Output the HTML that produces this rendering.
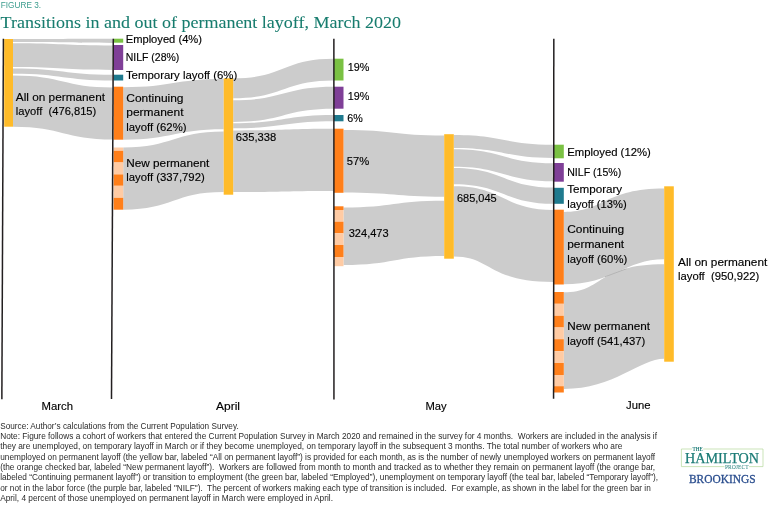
<!DOCTYPE html>
<html lang="en"><head><meta charset="utf-8"><title>Figure 3. Transitions in and out of permanent layoff, March 2020</title>
<style>
html,body{margin:0;padding:0;background:#fff;}
body{width:768px;height:507px;overflow:hidden;}
svg{display:block;}
text{font-family:"Liberation Sans",sans-serif;}
.lab text{font-size:11.6px;fill:#000;stroke:#000;stroke-width:0.15px;}
.note text{font-size:8.2px;fill:#2a2a2a;}
.ser{font-family:"Liberation Serif",serif;}
</style></head><body>
<svg width="768" height="507" viewBox="0 0 768 507">
<rect width="768" height="507" fill="#ffffff"/>
<text x="0.8" y="7.6" font-size="9.2" fill="#3a9c8d" textLength="40.3" lengthAdjust="spacingAndGlyphs">FIGURE 3.</text>
<text class="ser" x="0.6" y="28.3" font-size="17.5" fill="#177c6e" stroke="#177c6e" stroke-width="0.08" textLength="400.4" lengthAdjust="spacingAndGlyphs" style="font-family:'Liberation Serif',serif">Transitions in and out of permanent layoff, March 2020</text>
<g fill="#cccccc">
<path d="M13,39 C63.1,39 63.1,38.7 113.3,38.7 L113.3,42.9 C63.1,42.9 63.1,42.1 13,42.1 Z"/>
<path d="M13,43.2 C63.1,43.2 63.1,45.4 113.3,45.4 L113.3,70 C63.1,70 63.1,67.1 13,67.1 Z"/>
<path d="M13,68.5 C63.1,68.5 63.1,74.7 113.3,74.7 L113.3,80.5 C63.1,80.5 63.1,73.75 13,73.75 Z"/>
<path d="M13,75.4 C63.1,75.4 63.1,87.4 113.3,87.4 L113.3,139.5 C63.1,139.5 63.1,126.7 13,126.7 Z"/>
<path d="M123.2,87.2 C173.4,87.2 173.4,79 223.7,79 L223.7,129.3 C173.4,129.3 173.4,139.7 123.2,139.7 Z"/>
<path d="M123.2,147.5 C173.4,147.5 173.4,131.6 223.7,131.6 L223.7,192.1 C173.4,192.1 173.4,209.7 123.2,209.7 Z"/>
<path d="M233.2,78.3 C283.4,78.3 283.4,58.7 333.5,58.7 L333.5,80.5 C283.4,80.5 283.4,98.3 233.2,98.3 Z"/>
<path d="M233.2,100.3 C283.4,100.3 283.4,86.7 333.5,86.7 L333.5,108.7 C283.4,108.7 283.4,122 233.2,122 Z"/>
<path d="M233.2,123.3 C283.4,123.3 283.4,115 333.5,115 L333.5,121.3 C283.4,121.3 283.4,128.3 233.2,128.3 Z"/>
<path d="M233.2,130.5 C283.4,130.5 283.4,128.7 333.5,128.7 L333.5,190.9 C283.4,190.9 283.4,192.0 233.2,192.0 Z"/>
<path d="M343.5,130 C393.9,130 393.9,135.5 444.2,135.5 L444.2,196.7 C393.9,196.7 393.9,192.5 343.5,192.5 Z"/>
<path d="M343.5,207.5 C393.9,207.5 393.9,200.8 444.2,200.8 L444.2,256 C393.9,256 393.9,265 343.5,265 Z"/>
<path d="M453.8,135 C503.6,135 503.6,144.7 553.5,144.7 L553.5,158 C503.6,158 503.6,148 453.8,148 Z"/>
<path d="M453.8,149.2 C503.6,149.2 503.6,163.3 553.5,163.3 L553.5,181.3 C503.6,181.3 503.6,166.7 453.8,166.7 Z"/>
<path d="M453.8,168 C503.6,168 503.6,187.5 553.5,187.5 L553.5,203.7 C503.6,203.7 503.6,184.2 453.8,184.2 Z"/>
<path d="M453.8,186.3 C503.6,186.3 503.6,210 553.5,210 L553.5,281.9 C487.7,281.9 491.7,256.4 453.8,256.4 Z"/>
<path d="M563.8,212 C604.0,212 605.0,188.6 664.2,188.6 L664.2,259.2 C625.0,259.2 613.0,284.3 563.8,284.3 Z"/>
<path d="M563.8,292.3 C604.0,292.3 595.9,264.2 664.2,264.2 L664.2,358.8 C640.1,358.8 614.0,389 563.8,389 Z"/>
</g>
<line x1="605" y1="276.8" x2="626.7" y2="268.7" stroke="#6e6e6e" stroke-width="0.25"/>
<g>
<rect x="4.2" y="39.00" width="8.80" height="87.70" fill="#ffbb29"/>
<rect x="223.7" y="78.30" width="9.50" height="116.40" fill="#ffbb29"/>
<rect x="444.2" y="134.20" width="9.60" height="124.50" fill="#ffbb29"/>
<rect x="664.2" y="186.30" width="9.60" height="175.40" fill="#ffbb29"/>
<rect x="113.6" y="38.70" width="9.60" height="4.00" fill="#7ac143"/>
<rect x="113.6" y="45.00" width="9.60" height="25.00" fill="#7f3f97"/>
<rect x="113.6" y="74.70" width="9.60" height="5.80" fill="#1f7a8e"/>
<rect x="113.6" y="86.70" width="9.60" height="53.00" fill="#ff7f1a"/>
<rect x="113.6" y="147.50" width="9.60" height="3.30" fill="#ffcba4"/>
<rect x="113.6" y="150.80" width="9.60" height="11.70" fill="#ff7f1a"/>
<rect x="113.6" y="162.50" width="9.60" height="11.90" fill="#ffcba4"/>
<rect x="113.6" y="174.40" width="9.60" height="11.40" fill="#ff7f1a"/>
<rect x="113.6" y="185.80" width="9.60" height="12.00" fill="#ffcba4"/>
<rect x="113.6" y="197.80" width="9.60" height="11.90" fill="#ff7f1a"/>
<rect x="334" y="58.70" width="9.50" height="21.80" fill="#7ac143"/>
<rect x="334" y="86.70" width="9.50" height="22.00" fill="#7f3f97"/>
<rect x="334" y="115.00" width="9.50" height="6.30" fill="#1f7a8e"/>
<rect x="334" y="128.70" width="9.50" height="64.10" fill="#ff7f1a"/>
<rect x="334" y="206.30" width="9.50" height="3.70" fill="#ff7f1a"/>
<rect x="334" y="210.00" width="9.50" height="11.70" fill="#ffcba4"/>
<rect x="334" y="221.70" width="9.50" height="11.60" fill="#ff7f1a"/>
<rect x="334" y="233.30" width="9.50" height="11.70" fill="#ffcba4"/>
<rect x="334" y="245.00" width="9.50" height="12.00" fill="#ff7f1a"/>
<rect x="334" y="257.00" width="9.50" height="9.20" fill="#ffcba4"/>
<rect x="554" y="144.70" width="9.80" height="13.60" fill="#7ac143"/>
<rect x="554" y="163.00" width="9.80" height="18.70" fill="#7f3f97"/>
<rect x="554" y="187.80" width="9.80" height="16.00" fill="#1f7a8e"/>
<rect x="554" y="209.70" width="9.80" height="74.80" fill="#ff7f1a"/>
<rect x="554" y="292.00" width="9.80" height="11.80" fill="#ff7f1a"/>
<rect x="554" y="303.80" width="9.80" height="12.00" fill="#ffcba4"/>
<rect x="554" y="315.80" width="9.80" height="11.70" fill="#ff7f1a"/>
<rect x="554" y="327.50" width="9.80" height="11.70" fill="#ffcba4"/>
<rect x="554" y="339.20" width="9.80" height="12.00" fill="#ff7f1a"/>
<rect x="554" y="351.20" width="9.80" height="11.80" fill="#ffcba4"/>
<rect x="554" y="363.00" width="9.80" height="12.00" fill="#ff7f1a"/>
<rect x="554" y="375.00" width="9.80" height="11.20" fill="#ffcba4"/>
<rect x="554" y="386.20" width="9.80" height="6.30" fill="#ff7f1a"/>
</g>
<g stroke="#231f20" stroke-width="1.5">
<line x1="3.4" y1="38.7" x2="1.85" y2="399.3"/>
<line x1="113.3" y1="38.7" x2="111.5" y2="399.1"/>
<line x1="333.85" y1="38.7" x2="333.95" y2="399.4"/>
<line x1="553.8" y1="38.7" x2="553.6" y2="398.8"/>
</g>
<g class="lab">
<text x="15.8" y="100.8" textLength="89.2" lengthAdjust="spacingAndGlyphs" xml:space="preserve">All on permanent</text>
<text x="15.8" y="115.2" textLength="80.5" lengthAdjust="spacingAndGlyphs" xml:space="preserve">layoff  (476,815)</text>
<text x="125.7" y="43.3" textLength="76.3" lengthAdjust="spacingAndGlyphs" xml:space="preserve">Employed (4%)</text>
<text x="125.7" y="60.8" textLength="53.6" lengthAdjust="spacingAndGlyphs" xml:space="preserve">NILF (28%)</text>
<text x="125.9" y="78.7" textLength="111.4" lengthAdjust="spacingAndGlyphs" xml:space="preserve">Temporary layoff (6%)</text>
<text x="126.3" y="101.7" textLength="57.2" lengthAdjust="spacingAndGlyphs" xml:space="preserve">Continuing</text>
<text x="126.3" y="116" textLength="57.2" lengthAdjust="spacingAndGlyphs" xml:space="preserve">permanent</text>
<text x="126.3" y="130.5" textLength="60.2" lengthAdjust="spacingAndGlyphs" xml:space="preserve">layoff (62%)</text>
<text x="126.3" y="166.7" textLength="83.0" lengthAdjust="spacingAndGlyphs" xml:space="preserve">New permanent</text>
<text x="126.3" y="181" textLength="78.4" lengthAdjust="spacingAndGlyphs" xml:space="preserve">layoff (337,792)</text>
<text x="235.7" y="141.3" textLength="40.5" lengthAdjust="spacingAndGlyphs" xml:space="preserve">635,338</text>
<text x="347.7" y="70.8" textLength="21.6" lengthAdjust="spacingAndGlyphs" xml:space="preserve">19%</text>
<text x="347.7" y="100.3" textLength="21.6" lengthAdjust="spacingAndGlyphs" xml:space="preserve">19%</text>
<text x="347.2" y="121.7" textLength="15.5" lengthAdjust="spacingAndGlyphs" xml:space="preserve">6%</text>
<text x="346.8" y="164.7" textLength="22.5" lengthAdjust="spacingAndGlyphs" xml:space="preserve">57%</text>
<text x="348.7" y="236.7" textLength="40.0" lengthAdjust="spacingAndGlyphs" xml:space="preserve">324,473</text>
<text x="457" y="201.7" textLength="39.7" lengthAdjust="spacingAndGlyphs" xml:space="preserve">685,045</text>
<text x="567.2" y="155.8" textLength="83.6" lengthAdjust="spacingAndGlyphs" xml:space="preserve">Employed (12%)</text>
<text x="567.2" y="176.2" textLength="54.1" lengthAdjust="spacingAndGlyphs" xml:space="preserve">NILF (15%)</text>
<text x="567.2" y="193.3" textLength="55.0" lengthAdjust="spacingAndGlyphs" xml:space="preserve">Temporary</text>
<text x="567.2" y="207.6" textLength="59.5" lengthAdjust="spacingAndGlyphs" xml:space="preserve">layoff (13%)</text>
<text x="567.2" y="233.3" textLength="57.0" lengthAdjust="spacingAndGlyphs" xml:space="preserve">Continuing</text>
<text x="567.2" y="248" textLength="57.0" lengthAdjust="spacingAndGlyphs" xml:space="preserve">permanent</text>
<text x="567.2" y="262.5" textLength="60.0" lengthAdjust="spacingAndGlyphs" xml:space="preserve">layoff (60%)</text>
<text x="567.2" y="330" textLength="82.8" lengthAdjust="spacingAndGlyphs" xml:space="preserve">New permanent</text>
<text x="567.2" y="344.6" textLength="78.1" lengthAdjust="spacingAndGlyphs" xml:space="preserve">layoff (541,437)</text>
<text x="678" y="265.8" textLength="89.3" lengthAdjust="spacingAndGlyphs" xml:space="preserve">All on permanent</text>
<text x="678" y="280.4" textLength="81.2" lengthAdjust="spacingAndGlyphs" xml:space="preserve">layoff  (950,922)</text>
<text x="41.5" y="410.4" textLength="31.5" lengthAdjust="spacingAndGlyphs" xml:space="preserve">March</text>
<text x="216" y="410.2" textLength="24.0" lengthAdjust="spacingAndGlyphs" xml:space="preserve">April</text>
<text x="425.5" y="409.8" textLength="21.2" lengthAdjust="spacingAndGlyphs" xml:space="preserve">May</text>
<text x="626" y="408.8" textLength="24.5" lengthAdjust="spacingAndGlyphs" xml:space="preserve">June</text>
</g>
<g class="note">
<text x="0.2" y="428.7" textLength="238.5" lengthAdjust="spacingAndGlyphs" xml:space="preserve">Source: Author’s calculations from the Current Population Survey.</text>
<text x="0.2" y="439.1" textLength="656.8" lengthAdjust="spacingAndGlyphs" xml:space="preserve">Note: Figure follows a cohort of workers that entered the Current Population Survey in March 2020 and remained in the survey for 4 months.  Workers are included in the analysis if</text>
<text x="0.2" y="449.4" textLength="622.2" lengthAdjust="spacingAndGlyphs" xml:space="preserve">they are unemployed, on temporary layoff in March or if they become unemployed, on temporary layoff in the subsequent 3 months. The total number of workers who are</text>
<text x="0.2" y="459.8" textLength="655.0" lengthAdjust="spacingAndGlyphs" xml:space="preserve">unemployed on permanent layoff (the yellow bar, labeled “All on permanent layoff”) is provided for each month, as is the number of newly unemployed workers on permanent layoff</text>
<text x="0.2" y="470.1" textLength="655.0" lengthAdjust="spacingAndGlyphs" xml:space="preserve">(the orange checked bar, labeled “New permanent layoff”).  Workers are followed from month to month and tracked as to whether they remain on permanent layoff (the orange bar,</text>
<text x="0.2" y="480.4" textLength="657.9" lengthAdjust="spacingAndGlyphs" xml:space="preserve">labeled “Continuing permanent layoff”) or transition to employment (the green bar, labeled “Employed”), unemployment on temporary layoff (the teal bar, labeled “Temporary layoff”),</text>
<text x="0.2" y="490.7" textLength="650.6" lengthAdjust="spacingAndGlyphs" xml:space="preserve">or not in the labor force (the purple bar, labeled "NILF").  The percent of workers making each type of transition is included.  For example, as shown in the label for the green bar in</text>
<text x="0.2" y="500.8" textLength="332.8" lengthAdjust="spacingAndGlyphs" xml:space="preserve">April, 4 percent of those unemployed on permanent layoff in March were employed in April.</text>
</g>
<g id="logo">
<path d="M692,449 H681.4 V466.6 H724.5 M749,466.6 H763 V449 H703.3" fill="none" stroke="#b5d99c" stroke-width="0.7"/>
<text x="692.6" y="451" font-size="5.2" font-weight="bold" fill="#1b7b76" textLength="10.2" lengthAdjust="spacingAndGlyphs" style="font-family:'Liberation Serif',serif">THE</text>
<text x="685" y="462.8" font-size="14.2" fill="#1b7b76" stroke="#1b7b76" stroke-width="0.25" textLength="74" lengthAdjust="spacingAndGlyphs" style="font-family:'Liberation Serif',serif">HAMILTON</text>
<text x="725" y="468.5" font-size="5.4" fill="#1b7b76" textLength="23.6" lengthAdjust="spacingAndGlyphs" style="font-family:'Liberation Serif',serif">PROJECT</text>
<text x="689" y="482.6" font-size="12" fill="#2c4f8f" stroke="#2c4f8f" stroke-width="0.3" textLength="66.5" lengthAdjust="spacingAndGlyphs" style="font-family:'Liberation Serif',serif">BROOKINGS</text>
</g>
</svg>
</body></html>
